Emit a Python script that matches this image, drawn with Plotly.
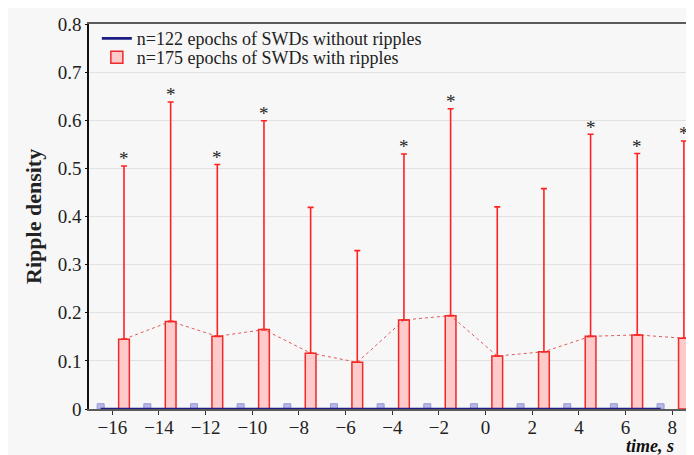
import plotly.graph_objects as go

# ---- data ----
red_x = [-15.5, -13.5, -11.5, -9.5, -7.5, -5.5, -3.5, -1.5, 0.5, 2.5, 4.5, 6.5, 8.5]
red_mean = [0.145, 0.182, 0.151, 0.165, 0.116, 0.097, 0.185, 0.194, 0.110, 0.119, 0.151, 0.154, 0.147]
red_err_top = [0.505, 0.638, 0.508, 0.599, 0.419, 0.329, 0.530, 0.624, 0.420, 0.458, 0.571, 0.531, 0.557]
red_signif = [True, True, True, True, False, False, True, True, False, False, True, True, True]

blue_x = [-16.5, -14.5, -12.5, -10.5, -8.5, -6.5, -4.5, -2.5, -0.5, 1.5, 3.5, 5.5, 7.5]
blue_mean = [0.011, 0.011, 0.011, 0.011, 0.011, 0.011, 0.011, 0.011, 0.011, 0.011, 0.011, 0.011, 0.011]
blue_line = [0, 0, 0, 0, 0, 0, 0, 0, 0, 0, 0, 0, 0]

x_ticks = [-16, -14, -12, -10, -8, -6, -4, -2, 0, 2, 4, 6, 8]
y_ticks = [0, 0.1, 0.2, 0.3, 0.4, 0.5, 0.6, 0.7, 0.8]
y_ticklabels = ["0", "0.1", "0.2", "0.3", "0.4", "0.5", "0.6", "0.7", "0.8"]

FONT = "Liberation Serif"

fig = go.Figure()

# blue small bars (no legend)
fig.add_trace(go.Bar(
    x=blue_x, y=blue_mean, width=0.3,
    marker=dict(color="#b6b6e8", line=dict(color="#9898d6", width=1)),
    showlegend=False, hoverinfo="skip",
))
# navy line (legend entry for blue group)
fig.add_trace(go.Scatter(
    x=blue_x, y=blue_line, mode="lines",
    line=dict(color="#1c1c82", width=2.6),
    name="n=122 epochs of SWDs without ripples",
    legend="legend",
))

# red bars with upper error bars
fig.add_trace(go.Bar(
    x=red_x, y=red_mean, width=0.46,
    marker=dict(color="#ffcaca", line=dict(color="#ee2a2a", width=1.5)),
    error_y=dict(type="data", symmetric=False,
                 array=[t - m for t, m in zip(red_err_top, red_mean)],
                 arrayminus=[0] * len(red_mean),
                 color="#ff2222", thickness=1.6, width=3),
    name="n=175 epochs of SWDs with ripples",
    legend="legend2",
))
# dotted line connecting means
fig.add_trace(go.Scatter(
    x=red_x, y=red_mean, mode="lines",
    line=dict(color="rgba(225,60,60,0.85)", width=1, dash="dot"),
    showlegend=False, hoverinfo="skip",
))

# asterisks
for xv, top, sig in zip(red_x, red_err_top, red_signif):
    if sig:
        fig.add_annotation(x=xv, y=top, text="*", showarrow=False,
                           yshift=7, font=dict(family=FONT, size=19, color="#222"))

# x title
fig.add_annotation(xref="paper", yref="paper", x=0.972, y=-0.096,
                   xanchor="right", yanchor="middle", showarrow=False,
                   text="<b><i>time, s</i></b>",
                   font=dict(family=FONT, size=18, color="#111"))

# y title
fig.add_annotation(xref="paper", yref="paper", x=-0.092, y=0.5,
                   xanchor="center", yanchor="middle", showarrow=False,
                   textangle=-90, text="<b>Ripple density</b>",
                   font=dict(family=FONT, size=22, color="#222"))

legend_common = dict(xanchor="left", yanchor="middle",
                     bgcolor="rgba(0,0,0,0)", font=dict(family=FONT, size=18, color="#222"),
                     itemwidth=30, tracegroupgap=0)
fig.update_layout(
    width=686, height=447,
    margin=dict(l=81, r=1, t=16, b=46, autoexpand=False),
    paper_bgcolor="#f7f7f7",
    plot_bgcolor="#f7f7f7",
    barmode="overlay",
    font=dict(family=FONT, size=16, color="#222"),
    legend=dict(x=0.013, y=0.962, **legend_common),
    legend2=dict(x=0.013, y=0.913, **legend_common),
)
fig.update_xaxes(
    range=[-17, 8.89], tickvals=x_ticks, automargin=False,
    showline=True, linecolor="#5a5a5a", linewidth=2, mirror=True,
    ticks="outside", ticklen=4, tickcolor="#333",
    showgrid=False, zeroline=False, ticklabelstandoff=-4,
    tickfont=dict(family=FONT, size=19, color="#222"),
)
fig.update_yaxes(
    range=[0, 0.8], tickvals=y_ticks, ticktext=y_ticklabels, automargin=False,
    showline=True, linecolor="#111", linewidth=1.5,
    ticks="outside", ticklen=2, tickcolor="#111",
    showgrid=True, gridcolor="#e2e2e2", gridwidth=1, zeroline=False,
    tickfont=dict(family=FONT, size=19, color="#222"),
)

fig.write_html("out.html")
